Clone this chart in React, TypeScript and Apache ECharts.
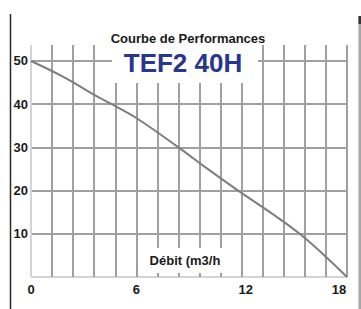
import React, { useEffect, useRef } from "react";
import * as echarts from "echarts";

const flowValues = [0, 2, 3.5, 4.6, 6, 8.4, 10, 11.8, 14, 15.3, 16.5, 18];
const headValues = [50, 46, 42.4, 40, 36.8, 30, 25.2, 20, 13.9, 10, 5.8, 0];
const xTickLabels = ["0", "6", "12", "18"];
const chartTitle = "Courbe de Performances";
const modelName = "TEF2 40H";
const xAxisName = "Débit (m3/h";

const FONT = "'Liberation Sans', Arial, Helvetica, sans-serif";

export default function App() {
  const ref = useRef<HTMLDivElement>(null);
  useEffect(() => {
    if (!ref.current) return;
    const chart = echarts.init(ref.current, undefined, { renderer: "svg" });
    const xColors = Array.from({ length: 16 }, (_, i) => (i === 0 ? "#d4d4d4" : "#a0a0a0"));
    const yColors = Array.from({ length: 7 }, (_, i) => (i === 0 ? "#d4d4d4" : "#a0a0a0"));
    chart.setOption({
      animation: false,
      backgroundColor: "#ffffff",
      grid: { left: 31, right: 14, top: 45, bottom: 32 },
      xAxis: {
        type: "value",
        min: 0,
        max: 18,
        interval: 1.2,
        axisLine: { show: false },
        axisTick: { show: false },
        splitLine: { show: true, lineStyle: { color: xColors, width: 2 } },
        axisLabel: {
          margin: 6,
          fontFamily: FONT,
          fontSize: 13,
          fontWeight: "bold",
          color: "#1a1a1a",
          formatter: (v: number) => {
            const k = v / 6;
            if (Math.abs(k - Math.round(k)) > 1e-6) return "";
            const s = xTickLabels[Math.round(k)];
            if (s === "12") return "{b|" + s + "}";
            if (s === "18") return "{c|" + s + "}";
            return "{a|" + s + "}";
          },
          rich: {
            a: { fontFamily: FONT, fontSize: 13, fontWeight: "bold", color: "#1a1a1a" },
            b: { fontFamily: FONT, fontSize: 13, fontWeight: "bold", color: "#1a1a1a", padding: [0, 0, 0, 8] },
            c: { fontFamily: FONT, fontSize: 13, fontWeight: "bold", color: "#1a1a1a", padding: [0, 16, 0, 0] },
          },
        },
      },
      yAxis: {
        type: "value",
        min: 0,
        max: 53.7,
        interval: 10,
        axisLine: { show: false },
        axisTick: { show: false },
        splitLine: { show: true, showMaxLine: false, lineStyle: { color: yColors, width: 2 } },
        axisLabel: {
          margin: 2,
          showMinLabel: false,
          showMaxLabel: false,
          fontFamily: FONT,
          fontSize: 13,
          fontWeight: "bold",
          color: "#1a1a1a",
          backgroundColor: "#ffffff",
          padding: [1, 1],
        },
      },
      series: [
        {
          type: "line",
          data: flowValues.map((x, i) => [x, headValues[i]]),
          smooth: 0.4,
          showSymbol: false,
          lineStyle: { color: "#7e7e7e", width: 2 },
          z: 3,
        },
      ],
      graphic: [
        { type: "rect", z: 100, shape: { x: 112, y: 45, width: 146, height: 38 }, style: { fill: "#ffffff" } },
        { type: "rect", z: 100, shape: { x: 145, y: 248, width: 80, height: 25 }, style: { fill: "#ffffff" } },
        {
          type: "text", z: 101, x: 188, y: 38,
          style: { text: chartTitle, fill: "#1a1a1a", font: "bold 13px " + FONT, align: "center", verticalAlign: "middle" },
        },
        {
          type: "text", z: 101, x: 183, y: 63,
          style: { text: modelName, fill: "#28368f", font: "bold 26px " + FONT, align: "center", verticalAlign: "middle" },
        },
        {
          type: "text", z: 101, x: 185, y: 260,
          style: { text: xAxisName, fill: "#1a1a1a", font: "bold 13px " + FONT, align: "center", verticalAlign: "middle" },
        },
        { type: "line", z: 101, shape: { x1: 10.5, y1: 14, x2: 10.5, y2: 309 }, style: { stroke: "#2a2a2a", lineWidth: 1.5 } },
        { type: "rect", z: 101, shape: { x: 358.5, y: 16, width: 2.5, height: 293 }, style: { fill: "#a6a6a6" } },
        { type: "rect", z: 102, shape: { x: 358.5, y: 16, width: 2.5, height: 8 }, style: { fill: "#333333" } },
      ],
    });
    return () => chart.dispose();
  }, []);
  return (
    <div
      ref={ref}
      style={{ position: "fixed", left: 0, top: 0, width: 361, height: 309, background: "#fff" }}
    />
  );
}
